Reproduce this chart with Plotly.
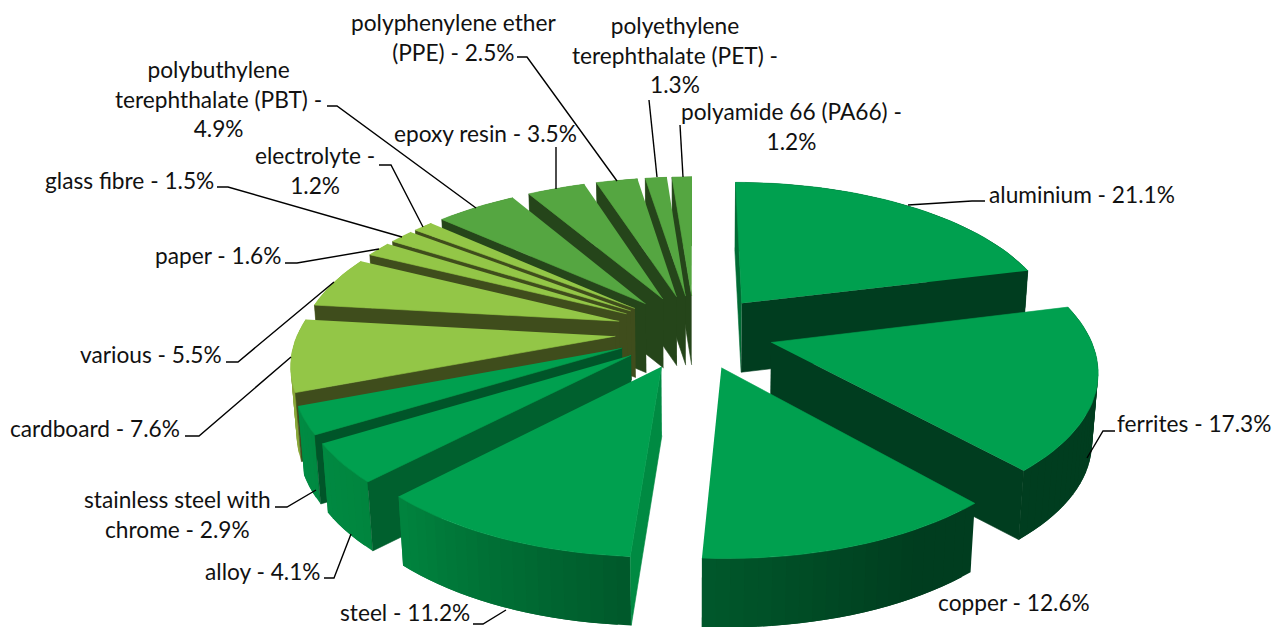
import numpy as np
import plotly.graph_objects as go

# --- data -------------------------------------------------------------
materials = ["aluminium", "ferrites", "copper", "steel", "alloy",
             "stainless steel with chrome", "cardboard", "various", "paper",
             "glass fibre", "electrolyte", "polybuthylene terephthalate (PBT)",
             "epoxy resin", "polyphenylene ether (PPE)",
             "polyethylene terephthalate (PET)", "polyamide 66 (PA66)"]
shares = [21.1, 17.3, 12.6, 11.2, 4.1, 2.9, 7.6, 5.5, 1.6, 1.5, 1.2, 4.9, 3.5, 2.5, 1.3, 1.2]
label_texts = ["aluminium - 21.1%", "ferrites - 17.3%", "copper - 12.6%", "steel - 11.2%",
               "alloy - 4.1%", "stainless steel with<br>chrome - 2.9%", "cardboard - 7.6%",
               "various - 5.5%", "paper - 1.6%", "glass fibre - 1.5%", "electrolyte -<br>1.2%",
               "polybuthylene<br>terephthalate (PBT) -<br>4.9%", "epoxy resin - 3.5%",
               "polyphenylene ether<br>(PPE) - 2.5%", "polyethylene<br>terephthalate (PET) -<br>1.3%",
               "polyamide 66 (PA66) -<br>1.2%"]

# --- styling ----------------------------------------------------------
top_colors = ["#00A04F"] * 6 + ["#93C647"] * 5 + ["#55A641"] * 5
start_wall = ["#006B34", "#003D1F", "#003D1F", "#008A42", "#00602E", "#005529",
              "#3F4D1C", "#3F4D1C", "#3F4D1C", "#3F4D1C", "#3F4D1C",
              "#25451A", "#25451A", "#25451A", "#25451A", "#25451A"]
end_wall = ["#003D1F", "#003D1F", "#005A2C", "#005A2C", "#005A2C", "#005A2C",
            "#3F4D1C", "#3F4D1C", "#3F4D1C", "#3F4D1C", "#3F4D1C",
            "#25451A", "#25451A", "#25451A", "#25451A", "#25451A"]
label_pos = [(1082, 194), (1194, 423), (1014, 602), (405, 612), (263, 571), (177, 514), (95, 428),
             (151, 354), (218, 255), (129, 180), (315, 170), (218, 99), (485, 133), (454, 37),
             (675, 55), (791, 126)]
leaders = [[(908, 205), (972, 201), (985, 201)],
           [(1087, 458), (1103, 431), (1115, 431)],
           [(506, 610), (483, 624), (473, 624)],
           [(351, 534), (334, 578), (324, 578)],
           [(316, 490), (287, 507), (275, 507)],
           [(291, 357), (199, 436), (185, 436)],
           [(334, 282), (238, 362), (226, 362)],
           [(379, 249), (297, 263), (285, 263)],
           [(402, 237), (228, 187), (217, 187)],
           [(423, 227), (391, 165), (379, 165)],
           [(476, 208), (337, 106), (327, 106)],
           [(556, 189), (556, 147)],
           [(617, 181), (527, 57), (517, 57)],
           [(657, 177), (649, 100)],
           [(683, 177), (680, 125)]]

CX, CY, B, A, K, PULL, H = 694.5, 331.5, 317, 148, 0.157, 0.25, 69


def project(x, y):
    s = 1 / (1 + K * y)
    return CX + B * x * s, CY - A * y * s


def hex_rgb(c):
    return np.array([int(c[i:i + 2], 16) for i in (1, 3, 5)], float)


def rim_color(theta, group):
    """Rim shade from outward direction (degrees clockwise from the top)."""
    if group == 0:
        stops = [(0, "#003D1F"), (150, "#003D1F"), (185, "#005A2C"), (225, "#00863F"), (260, "#008F46"), (360, "#008F46")]
    elif group == 1:
        stops = [(0, "#8AA83A"), (360, "#8AA83A")]
    else:
        stops = [(0, "#4E8A38"), (360, "#4E8A38")]
    ts = [p[0] for p in stops]
    cols = np.array([hex_rgb(p[1]) for p in stops])
    rgb = [np.interp(theta, ts, cols[:, j]) for j in range(3)]
    return "rgb(%d,%d,%d)" % tuple(rgb)


def poly(xs, ys, color, lw=0.6):
    return go.Scatter(x=list(xs), y=list(ys), mode="lines", fill="toself", fillcolor=color,
                      line=dict(color=color, width=lw), hoverinfo="skip", showlegend=False)


def drop(x, y):
    return CX + (x - CX) * 0.985, y + H


fig = go.Figure()
edges = np.concatenate([[0], np.cumsum(shares)]) / sum(shares) * 2 * np.pi
mids = (edges[:-1] + edges[1:]) / 2
order = np.argsort(-np.cos(mids))

for i in order:
    a0, a1, m = edges[i], edges[i + 1], mids[i]
    ox, oy = PULL * np.sin(m), PULL * np.cos(m)
    n = max(3, int(np.degrees(a1 - a0) / 2) + 1)
    ang = np.linspace(a0, a1, n)
    px, py = project(ox + np.sin(ang), oy + np.cos(ang))
    ax, ay = project(ox, oy)
    bx, by = drop(px, py)
    dax, day = drop(ax, ay)
    group = 0 if i < 6 else (1 if i < 11 else 2)
    # rim, shaded along its sweep; each band overlaps the next so no seams show
    for j in range(n - 1):
        c = rim_color(np.degrees((ang[j] + ang[j + 1]) / 2), group)
        k = min(j + 2, n - 1)
        xs = list(px[j:k + 1]) + list(bx[j:k + 1][::-1])
        ys = list(py[j:k + 1]) + list(by[j:k + 1][::-1])
        fig.add_trace(poly(xs, ys, c, lw=0))
    # radial walls facing the viewer
    if np.sin(a0) <= 1e-9:
        fig.add_trace(poly([ax, px[0], bx[0], dax], [ay, py[0], by[0], day], start_wall[i]))
    if np.sin(a1) > 1e-9:
        fig.add_trace(poly([ax, px[-1], bx[-1], dax], [ay, py[-1], by[-1], day], end_wall[i]))
    # top face
    fig.add_trace(poly(np.concatenate([[ax], px]), np.concatenate([[ay], py]), top_colors[i]))

lx, ly = [], []
for seg in leaders:
    lx += [p[0] for p in seg] + [None]
    ly += [p[1] for p in seg] + [None]
fig.add_trace(go.Scatter(x=lx, y=ly, mode="lines", line=dict(color="black", width=1.4),
                         hoverinfo="skip", showlegend=False))

for txt, (x, y) in zip(label_texts, label_pos):
    fig.add_annotation(x=x, y=y, text=txt, showarrow=False, xanchor="center", yanchor="middle",
                       font=dict(family="Lato", size=22.7, color="#111111"), align="center")

fig.update_layout(width=1275, height=627, margin=dict(l=0, r=0, t=0, b=0),
                  paper_bgcolor="white", plot_bgcolor="white",
                  xaxis=dict(range=[0, 1275], visible=False, fixedrange=True),
                  yaxis=dict(range=[627, 0], visible=False, fixedrange=True),
                  showlegend=False)
fig.write_html("out.html", config={"displayModeBar": False},
               post_script="document.body.style.margin='0';")
